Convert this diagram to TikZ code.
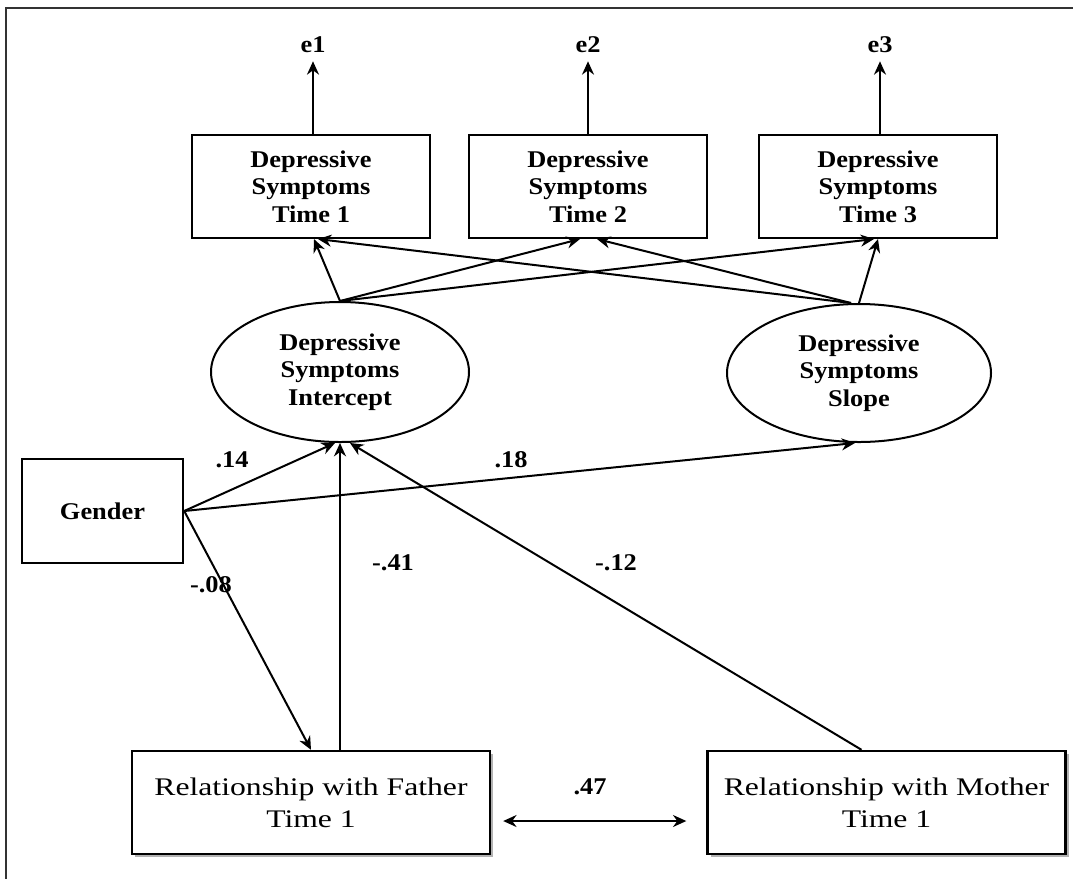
\documentclass[tikz,border=0pt]{standalone}
\usepackage{fontspec}
\setmainfont{Liberation Serif}[FakeStretch=1.1]
\newfontfamily\wideserif{Liberation Serif}[FakeStretch=1.25]
\usetikzlibrary{arrows.meta,calc,shadows,shapes.geometric}
\begin{document}
\begin{tikzpicture}[x=0.75pt,y=-0.75pt,
  every node/.style={inner sep=0pt},
  bfont/.style={font=\bfseries\fontsize{18}{20.5}\selectfont},
  bx/.style={draw,line width=1.8pt,minimum width=178.5pt,minimum height=77pt,align=center,bfont},
  lat/.style={draw,ellipse,line width=1.5pt,align=center,bfont},
  relbox/.style={draw,line width=1.8pt,fill=white,minimum width=268.5pt,minimum height=77.25pt,align=center,
     font=\wideserif\fontsize{19}{24}\selectfont,
     drop shadow={shadow xshift=2.5pt,shadow yshift=-2.5pt,fill=black!30,opacity=1}},
  lbl/.style={bfont},
  arr/.style={line width=1.5pt,-{Stealth[length=10pt,width=9pt]}},
  darr/.style={line width=1.5pt,{Stealth[length=10pt,width=9pt]}-{Stealth[length=10pt,width=9pt]}}
]
\useasboundingbox (0,0) rectangle (1073,879);
\draw[line width=1.6pt,black!80] (1073,8) -- (6,8) -- (6,879);

% error terms
\node[lbl] (e1) at (313,45) {e1};
\node[lbl] (e2) at (588,45) {e2};
\node[lbl] (e3) at (880,45) {e3};

% observed depressive symptoms
\node[bx] (b1) at (311,186.5) {Depressive\\Symptoms\\Time 1};
\node[bx] (b2) at (588,186.5) {Depressive\\Symptoms\\Time 2};
\node[bx] (b3) at (878,186.5) {Depressive\\Symptoms\\Time 3};

% latent factors
\node[lat,minimum width=193.5pt,minimum height=105pt] (I) at (340,372) {Depressive\\Symptoms\\Intercept};
\node[lat,minimum width=198pt,minimum height=103.5pt] (S) at (859,373) {Depressive\\Symptoms\\Slope};

% gender
\node[bx,minimum width=120.75pt,minimum height=78pt] (G) at (102.5,511) {Gender};

% relationship boxes
\node[relbox] (F) at (311,802.5) {Relationship with Father\\Time 1};
\node[relbox] (M) at (886.5,802.5) {Relationship with Mother\\Time 1};

% residual arrows
\draw[arr] ($(b1.north)+(2,0)$) -- ($(e1.south)+(0,8)$);
\draw[arr] (b2.north) -- ($(e2.south)+(0,8)$);
\draw[arr] ($(b3.north)+(2,0)$) -- ($(e3.south)+(0,8)$);

% loadings
\draw[arr] (I.north) -- ($(b1.south)+(3,0)$);
\draw[arr] (I.north) -- ($(b2.south)+(-8,0)$);
\draw[arr] (I.north) -- ($(b3.south)+(-4,0)$);
\draw[arr] ($(S.north)+(-8,0)$) -- ($(b1.south)+(7,0)$);
\draw[arr] ($(S.north)+(-8,0)$) -- ($(b2.south)+(9,0)$);
\draw[arr] (S.north) -- (b3.south);

% structural paths
\draw[arr] (G.east) -- ($(I.south)+(-5,0)$);
\draw[arr] (G.east) -- ($(S.south)+(-4,0)$);
\draw[arr] (G.east) -- (F.north);
\draw[arr] ($(F.north)+(29,0)$) -- ($(I.south)+(0,0)$);
\draw[arr] ($(M.north)+(-25,0)$) -- ($(I.south)+(10,0)$);
\draw[darr] ($(F.east)+(12,18.5)$) -- ($(M.west)+(-20,18.5)$);

% coefficients
\node[lbl] at (232,460) {.14};
\node[lbl] at (511,460) {.18};
\node[lbl] at (393,563) {-.41};
\node[lbl] at (616,563) {-.12};
\node[lbl] at (211,585) {-.08};
\node[lbl] at (590,787) {.47};
\end{tikzpicture}
\end{document}
